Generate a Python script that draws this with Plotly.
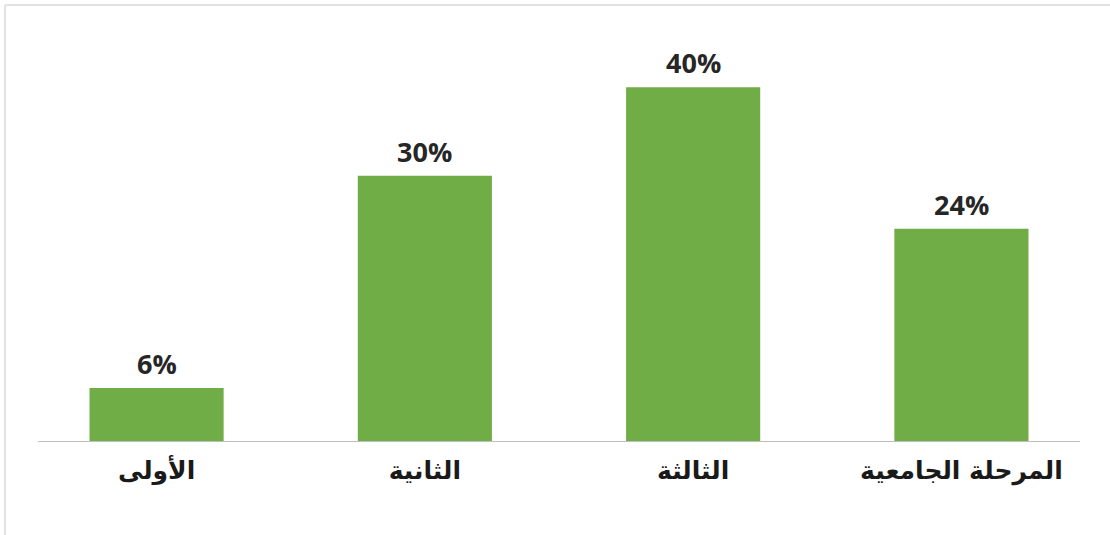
import plotly.graph_objects as go

categories = ["الأولى", "الثانية", "الثالثة", "المرحلة الجامعية"]
values = [6, 30, 40, 24]
value_labels = ["6%", "30%", "40%", "24%"]

W, H = 1110, 535
ML, MR, MT, MB = 38, 30, 43, 94
PW, PH = W - ML - MR, H - MT - MB


def px(x):
    return (x - ML) / PW


def py(y):
    return (H - MB - y) / PH


xs = list(range(len(categories)))

fig = go.Figure(
    go.Bar(
        x=xs,
        y=values,
        marker=dict(color="#70AD47", line=dict(width=0)),
        width=0.5,
        hoverinfo="skip",
    )
)

for x, v, t in zip(xs, values, value_labels):
    fig.add_annotation(
        x=x, y=v, text="<b>%s</b>" % t, showarrow=False,
        yanchor="bottom", yshift=4,
        font=dict(family="Open Sans", size=27, color="#262626"),
    )

fig.update_layout(
    width=W,
    height=H,
    margin=dict(l=ML, r=MR, t=MT, b=MB),
    paper_bgcolor="white",
    plot_bgcolor="white",
    showlegend=False,
    xaxis=dict(
        tickmode="array",
        tickvals=xs,
        ticktext=["<b>%s</b>" % c for c in categories],
        range=[-0.442, 3.442],
        showgrid=False,
        zeroline=False,
        showline=True,
        linecolor="#BFBFBF",
        linewidth=1,
        ticks="",
        ticklabelstandoff=7,
        tickfont=dict(family="DejaVu Sans", size=25, color="#1a1a1a"),
        fixedrange=True,
    ),
    yaxis=dict(
        range=[0, 45],
        visible=False,
        fixedrange=True,
    ),
    shapes=[
        dict(type="line", xref="paper", yref="paper",
             x0=px(5), x1=px(W), y0=py(5), y1=py(5),
             line=dict(color="#D9D9D9", width=1.5)),
        dict(type="line", xref="paper", yref="paper",
             x0=px(5), x1=px(5), y0=py(5), y1=py(H),
             line=dict(color="#D9D9D9", width=1.5)),
    ],
)

fig.write_html("out.html", config={"displayModeBar": False})
